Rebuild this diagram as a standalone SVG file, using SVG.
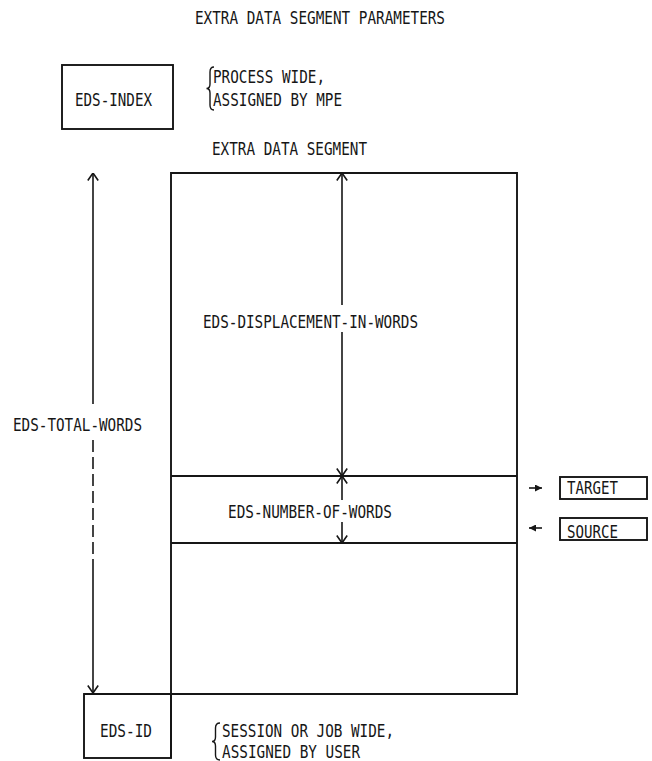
<svg xmlns="http://www.w3.org/2000/svg" width="652" height="761" viewBox="0 0 652 761">
<style>
  text { font-family: "DejaVu Sans Mono", "Liberation Mono", monospace; font-size: 18px; fill: #161616; }
  .ln { fill: none; stroke: #161616; stroke-width: 1.6; }
  .bx { fill: none; stroke: #161616; stroke-width: 1.9; }
  .br { fill: none; stroke: #161616; stroke-width: 1.4; }
</style>
<defs>
  <marker id="v" viewBox="0 0 10 12" refX="9.5" refY="6" markerWidth="10" markerHeight="12" orient="auto-start-reverse" markerUnits="userSpaceOnUse">
    <path d="M2,0.8 L9.5,6 L2,11.2" fill="none" stroke="#161616" stroke-width="1.6"/>
  </marker>
  <marker id="s" viewBox="0 0 7 7" refX="7" refY="3.5" markerWidth="7" markerHeight="7" orient="auto" markerUnits="userSpaceOnUse">
    <path d="M0,0 L7,3.5 L0,7 Z" fill="#161616"/>
  </marker>
</defs>
<rect width="652" height="761" fill="#ffffff"/>

<g id="title">
  <text x="195" y="24" textLength="250" lengthAdjust="spacingAndGlyphs">EXTRA DATA SEGMENT PARAMETERS</text>
</g>

<g id="eds-index">
  <rect class="bx" x="62" y="65" width="111" height="64"/>
  <text x="75" y="106" textLength="77" lengthAdjust="spacingAndGlyphs">EDS-INDEX</text>
</g>

<g id="process-note">
  <path class="br" d="M214,67 Q210,67 210,72 L210,84 Q210,88.5 206.5,88.5 Q210,88.5 210,93 L210,105 Q210,110 214,110"/>
  <text x="213" y="83" textLength="112" lengthAdjust="spacingAndGlyphs">PROCESS WIDE,</text>
  <text x="213" y="106" textLength="129" lengthAdjust="spacingAndGlyphs">ASSIGNED BY MPE</text>
</g>

<g id="extra-data-segment">
  <text x="212" y="155" textLength="155" lengthAdjust="spacingAndGlyphs">EXTRA DATA SEGMENT</text>
  <path class="bx" d="M171,758 L171,173 L517,173 L517,694 L84,694"/>
  <path class="bx" d="M171,476 L517,476 M171,543 L517,543"/>
  <text x="203" y="328" textLength="215" lengthAdjust="spacingAndGlyphs">EDS-DISPLACEMENT-IN-WORDS</text>
  <text x="228" y="518" textLength="164" lengthAdjust="spacingAndGlyphs">EDS-NUMBER-OF-WORDS</text>
</g>

<g id="eds-total-words">
  <text x="13" y="431" textLength="129" lengthAdjust="spacingAndGlyphs">EDS-TOTAL-WORDS</text>
</g>

<g id="eds-id">
  <rect class="bx" x="84" y="694" width="87" height="64"/>
  <text x="100" y="737" textLength="52" lengthAdjust="spacingAndGlyphs">EDS-ID</text>
</g>

<g id="session-note">
  <path class="br" d="M220,723 Q215.5,723 215.5,728 L215.5,737 Q215.5,741.5 212,741.5 Q215.5,741.5 215.5,746 L215.5,755 Q215.5,760 220,760"/>
  <text x="222" y="737" textLength="172" lengthAdjust="spacingAndGlyphs">SESSION OR JOB WIDE,</text>
  <text x="222" y="758" textLength="138" lengthAdjust="spacingAndGlyphs">ASSIGNED BY USER</text>
</g>

<g id="target">
  <rect class="bx" x="560" y="477" width="87" height="22"/>
  <text x="567" y="494" textLength="51" lengthAdjust="spacingAndGlyphs">TARGET</text>
</g>

<g id="source">
  <rect class="bx" x="560" y="518" width="87" height="22"/>
  <text x="567" y="538" textLength="51" lengthAdjust="spacingAndGlyphs">SOURCE</text>
</g>

<g id="connectors">
  <path class="ln" d="M93,173 L93,404" marker-start="url(#v)"/>
  <path class="ln" d="M93,440 L93,560" stroke-dasharray="12 5" stroke-width="1.2"/>
  <path class="ln" d="M93,560 L93,693" marker-end="url(#v)"/>
  <path class="ln" d="M342,173 L342,305" marker-start="url(#v)"/>
  <path class="ln" d="M342,332 L342,476" marker-end="url(#v)"/>
  <path class="ln" d="M342,476 L342,500" marker-start="url(#v)"/>
  <path class="ln" d="M342,522 L342,543" marker-end="url(#v)"/>
  <path class="ln" d="M529,488 L542,488" marker-end="url(#s)"/>
  <path class="ln" d="M542,528 L529,528" marker-end="url(#s)"/>
</g>
</svg>
